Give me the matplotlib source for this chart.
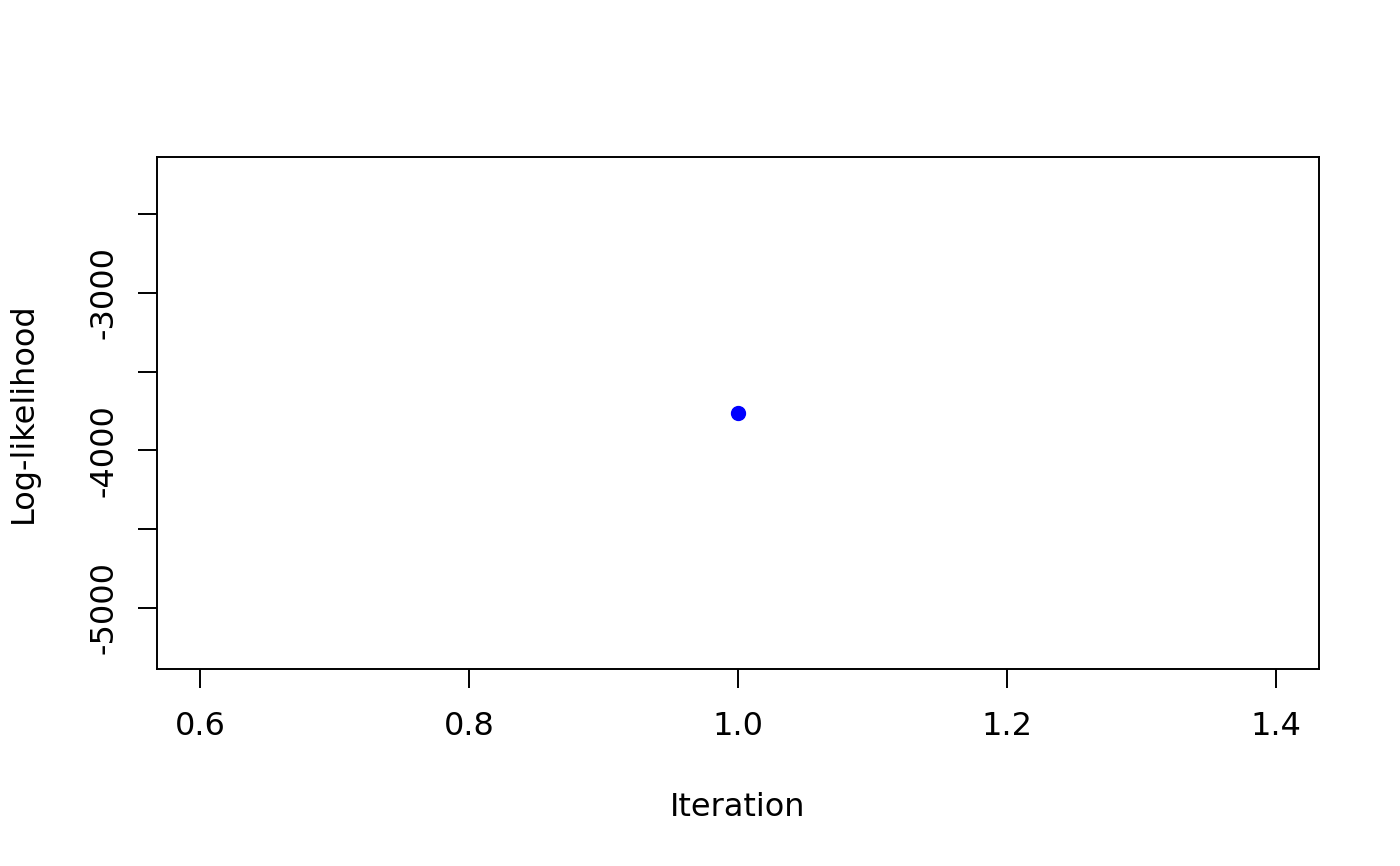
import numpy as np
import matplotlib.pyplot as plt

# данные: одна итерация
iterations = [1]
loglik = [-3763]

y_ticks = [-5000, -4500, -4000, -3500, -3000, -2500]
y_labels = ['-5000', '', '-4000', '', '-3000', '']
x_ticks = [0.6, 0.8, 1.0, 1.2, 1.4]
x_labels = ['0.6', '0.8', '1.0', '1.2', '1.4']

fig = plt.figure(figsize=(14, 8.66), dpi=100)
ax = fig.add_axes([0.1121, 0.2275, 0.83, 0.5912])

ax.plot(iterations, loglik, 'o', color='blue', markersize=10)

# пределы как в R: ±40% от значения плюс 4%
v = loglik[0]
lo, hi = v * 1.4, v * 0.6
pad = (hi - lo) * 0.04
ax.set_ylim(lo - pad, hi + pad)
ax.set_xlim(0.6 - 0.8 * 0.04, 1.4 + 0.8 * 0.04)

ax.set_xticks(x_ticks)
ax.set_xticklabels(x_labels)
ax.set_yticks(y_ticks)
ax.set_yticklabels(y_labels, rotation=90, va='center')

ax.tick_params(axis='both', length=14, width=1.4, labelsize=23, direction='out')
ax.tick_params(axis='x', pad=16)
ax.tick_params(axis='y', pad=13)
for s in ax.spines.values():
    s.set_linewidth(1.4)

ax.set_xlabel('Iteration', fontsize=23, labelpad=36)
ax.set_ylabel('Log-likelihood', fontsize=23, labelpad=36)

fig.savefig('out.png', dpi=100)
